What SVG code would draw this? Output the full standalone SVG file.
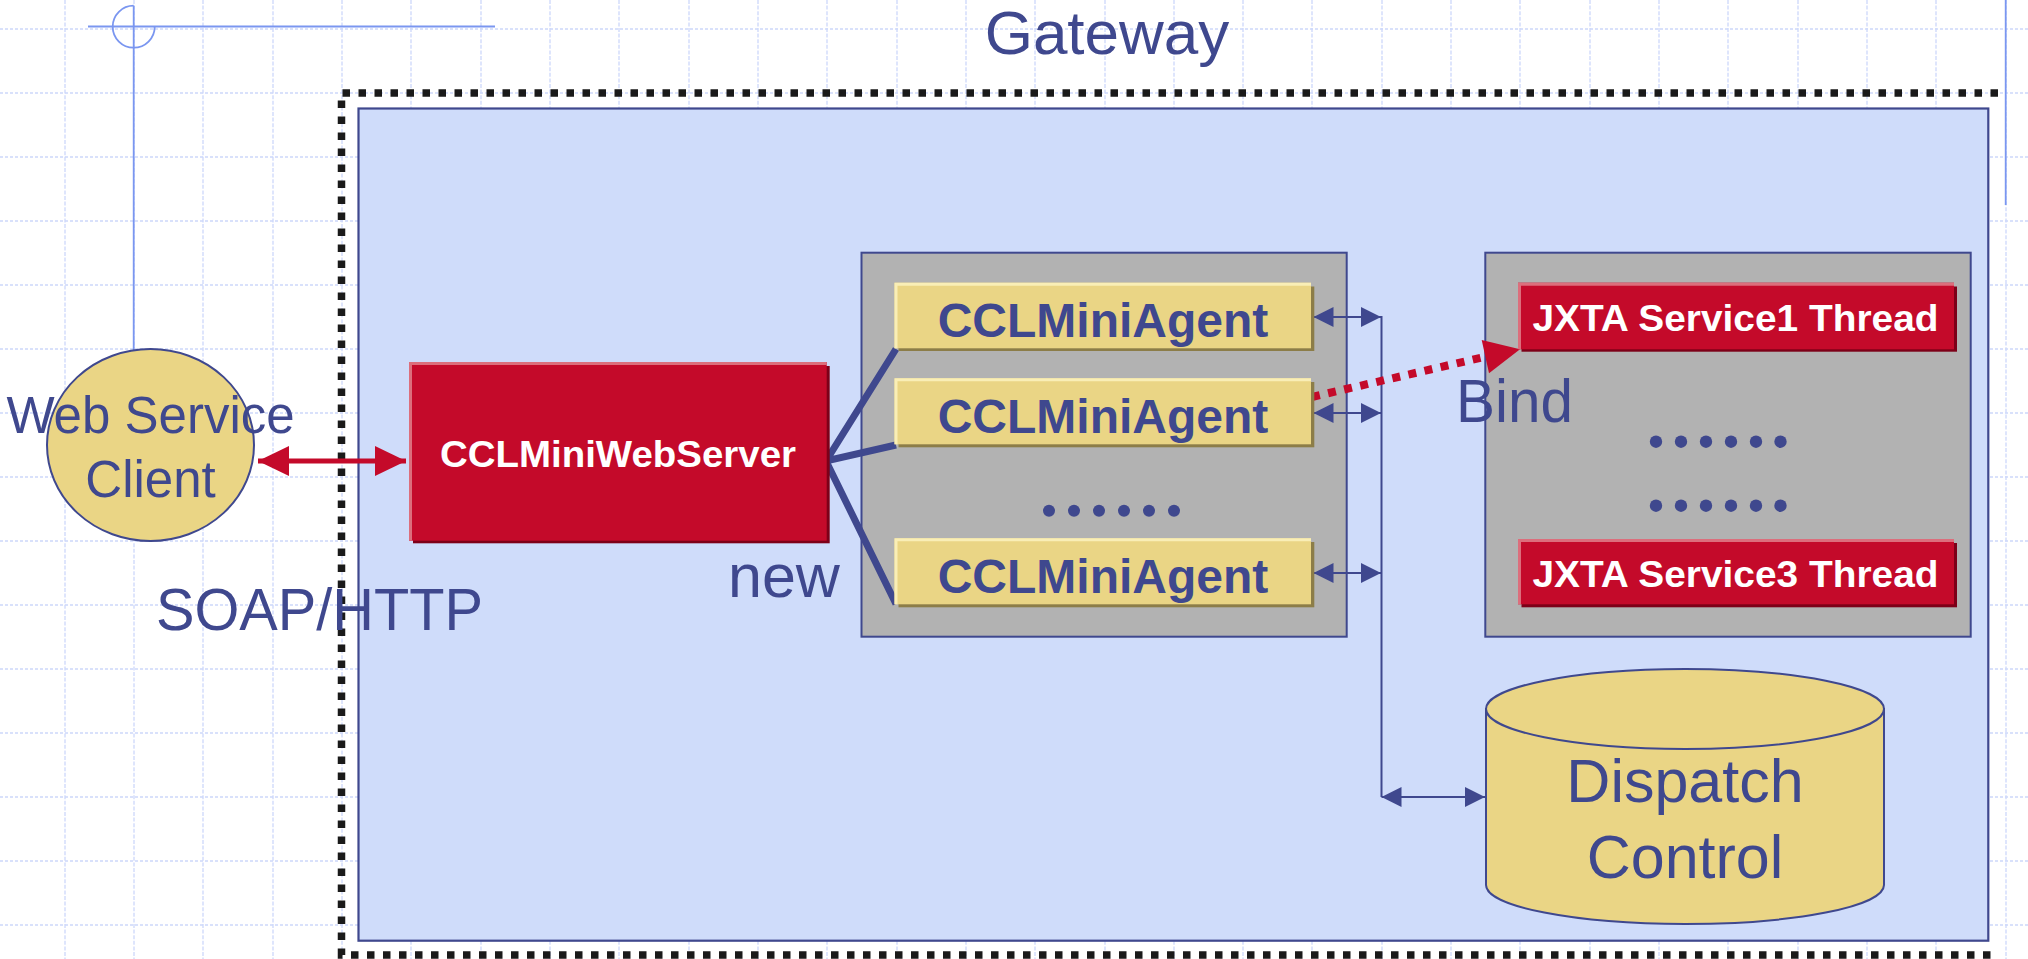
<svg xmlns="http://www.w3.org/2000/svg" width="2028" height="959" viewBox="0 0 2028 959">
<style>
  .gh { stroke:#cdd8fa; stroke-width:1.6; stroke-dasharray:3 2; fill:none; }
  .gv { stroke:#cdd8fa; stroke-width:1.3; stroke-dasharray:4 1.6; fill:none; }
  .guide { stroke:#7a96f0; stroke-width:1.8; fill:none; }
  .lbl { font-family:"Liberation Sans", Arial, sans-serif; fill:#3f488e; }
  .wb { font-family:"Liberation Sans", Arial, sans-serif; font-weight:bold; fill:#ffffff; }
  .ab { font-family:"Liberation Sans", Arial, sans-serif; font-weight:bold; fill:#3f488e; font-size:48px; text-anchor:middle; }
  .redMain { fill:#c40a2a; }
  .redShadow { fill:#7d0018; }
  .redHi { stroke:#dc6e7c; stroke-width:3; fill:none; }
  .goldMain { fill:#ead585; }
  .goldShadow { fill:#8c7d48; }
  .goldHi { stroke:#f9eeb6; stroke-width:3; fill:none; }
  .container { fill:#b2b2b2; stroke:#3f488e; stroke-width:2; }
  .dot { fill:#3f488e; }
  .blueLink { stroke:#3f488e; stroke-width:2; fill:none; }
  .fan { stroke:#3f488e; stroke-width:7; fill:none; stroke-linecap:butt; }
</style>
<defs>
  <marker id="ahBlue" viewBox="0 0 20 20" refX="20" refY="10" markerWidth="20" markerHeight="20" markerUnits="userSpaceOnUse" orient="auto-start-reverse">
    <path d="M0,0 L20,10 L0,20 Z" fill="#3f488e"/>
  </marker>
  <marker id="ahRed" viewBox="0 0 31 30" refX="31" refY="15" markerWidth="31" markerHeight="30" markerUnits="userSpaceOnUse" orient="auto-start-reverse">
    <path d="M0,0 L31,15 L0,30 Z" fill="#c40a2a"/>
  </marker>
</defs>

<rect x="0" y="0" width="2028" height="959" fill="#ffffff"/>

<g id="grid">
  <path class="gh" d="M0,29H2028M0,93H2028M0,157H2028M0,221H2028M0,285H2028M0,349H2028M0,413H2028M0,477H2028M0,541H2028M0,605H2028M0,669H2028M0,733H2028M0,797H2028M0,861H2028M0,925H2028"/>
  <path class="gv" d="M65,0V959M134,0V959M203,0V959M273,0V959M342,0V959M411,0V959M481,0V959M550,0V959M619,0V959M689,0V959M758,0V959M827,0V959M897,0V959M966,0V959M1035,0V959M1105,0V959M1174,0V959M1243,0V959M1312,0V959M1382,0V959M1451,0V959M1520,0V959M1590,0V959M1659,0V959M1728,0V959M1798,0V959M1867,0V959M1936,0V959M2006,0V959"/>
</g>

<g id="guides">
  <line class="guide" x1="88" y1="26.5" x2="495" y2="26.5"/>
  <path class="guide" d="M133.7,5.7 A21,21 0 1,0 154.7,26.7"/>
  <line class="guide" x1="133.7" y1="5.7" x2="133.7" y2="352"/>
  <line class="guide" x1="2005.7" y1="0" x2="2005.7" y2="205"/>
</g>

<g id="gateway">
  <path d="M1998,93 H341.5 V955 H1998" fill="none" stroke="#1a1a1a" stroke-width="7.5" stroke-dasharray="7.5 8.5"/>
  <rect x="358.5" y="108.5" width="1629.8" height="832.2" fill="#cfdcfa" stroke="#3f488e" stroke-width="2.2"/>
  <text class="lbl" x="1107" y="54" font-size="62" text-anchor="middle">Gateway</text>
</g>

<g id="client">
  <ellipse cx="150.5" cy="445" rx="103.5" ry="96" fill="#ead585" stroke="#3f488e" stroke-width="2"/>
  <text class="lbl" x="150.5" y="433" font-size="51" text-anchor="middle">Web Service</text>
  <text class="lbl" x="150.5" y="497" font-size="51" text-anchor="middle">Client</text>
</g>

<g id="agent-pool">
  <rect class="container" x="861.5" y="252.7" width="485.2" height="384"/>
</g>
<g id="jxta-pool">
  <rect class="container" x="1485.3" y="252.7" width="485.4" height="384"/>
</g>

<g id="connectors">
  <line x1="258" y1="461" x2="406" y2="461" stroke="#c40a2a" stroke-width="5" marker-start="url(#ahRed)" marker-end="url(#ahRed)"/>
  <path class="fan" d="M896,349 L826,461 L896,445 M826,461 L896,604"/>
  <line class="blueLink" x1="1313.5" y1="317" x2="1381" y2="317" marker-start="url(#ahBlue)" marker-end="url(#ahBlue)"/>
  <line class="blueLink" x1="1313.5" y1="413" x2="1381" y2="413" marker-start="url(#ahBlue)" marker-end="url(#ahBlue)"/>
  <line class="blueLink" x1="1313.5" y1="573" x2="1381" y2="573" marker-start="url(#ahBlue)" marker-end="url(#ahBlue)"/>
  <line class="blueLink" x1="1381.5" y1="316" x2="1381.5" y2="797"/>
  <line class="blueLink" x1="1381.5" y1="797" x2="1485" y2="797" marker-start="url(#ahBlue)" marker-end="url(#ahBlue)"/>
  <line x1="1312" y1="397" x2="1486" y2="356.5" stroke="#c40a2a" stroke-width="8" stroke-dasharray="8 8.5"/>
  <polygon points="1520,349.3 1481.7,340 1489,373.3" fill="#c40a2a"/>
</g>

<g id="server">
  <rect class="redShadow" x="413" y="366" width="416.7" height="177.3"/>
  <rect class="redMain" x="409" y="362" width="417.7" height="178.7"/>
  <path class="redHi" d="M410.5,540.7 V363.5 H826.7"/>
  <text class="wb" x="618" y="467" font-size="37" text-anchor="middle" textLength="356" lengthAdjust="spacingAndGlyphs">CCLMiniWebServer</text>
</g>

<g id="agent1">
  <rect class="goldShadow" x="898.5" y="286.5" width="415.8" height="64.5"/>
  <rect class="goldMain" x="894.5" y="282.7" width="416.5" height="65.6"/>
  <path class="goldHi" d="M896,348.3 V284.2 H1311"/>
  <text class="ab" x="1103" y="336.7">CCLMiniAgent</text>
</g>
<g id="agent2">
  <rect class="goldShadow" x="898.5" y="382" width="415.8" height="65.3"/>
  <rect class="goldMain" x="894.5" y="378.3" width="416.5" height="66"/>
  <path class="goldHi" d="M896,444.3 V379.8 H1311"/>
  <text class="ab" x="1103" y="432.7">CCLMiniAgent</text>
</g>
<g id="agent-dots">
  <circle class="dot" cx="1049" cy="510.7" r="6"/>
  <circle class="dot" cx="1074" cy="510.7" r="6"/>
  <circle class="dot" cx="1099" cy="510.7" r="6"/>
  <circle class="dot" cx="1124" cy="510.7" r="6"/>
  <circle class="dot" cx="1149" cy="510.7" r="6"/>
  <circle class="dot" cx="1174" cy="510.7" r="6"/>
</g>
<g id="agent3">
  <rect class="goldShadow" x="898.5" y="542" width="415.8" height="65.3"/>
  <rect class="goldMain" x="894.5" y="538.3" width="416.5" height="66"/>
  <path class="goldHi" d="M896,604.3 V539.8 H1311"/>
  <text class="ab" x="1103" y="592.7">CCLMiniAgent</text>
</g>

<g id="jxta1">
  <rect class="redShadow" x="1521.5" y="286.5" width="435.5" height="65.2"/>
  <rect class="redMain" x="1518" y="282.7" width="436" height="66.6"/>
  <path class="redHi" d="M1519.5,349.3 V284.2 H1954"/>
  <text class="wb" x="1735.5" y="331" font-size="37" text-anchor="middle" textLength="406" lengthAdjust="spacingAndGlyphs">JXTA Service1 Thread</text>
</g>
<g id="jxta-dots">
  <circle class="dot" cx="1656" cy="441.7" r="6.2"/>
  <circle class="dot" cx="1681" cy="441.7" r="6.2"/>
  <circle class="dot" cx="1706" cy="441.7" r="6.2"/>
  <circle class="dot" cx="1731" cy="441.7" r="6.2"/>
  <circle class="dot" cx="1756" cy="441.7" r="6.2"/>
  <circle class="dot" cx="1780.5" cy="441.7" r="6.2"/>
  <circle class="dot" cx="1656" cy="505.7" r="6.2"/>
  <circle class="dot" cx="1681" cy="505.7" r="6.2"/>
  <circle class="dot" cx="1706" cy="505.7" r="6.2"/>
  <circle class="dot" cx="1731" cy="505.7" r="6.2"/>
  <circle class="dot" cx="1756" cy="505.7" r="6.2"/>
  <circle class="dot" cx="1780.5" cy="505.7" r="6.2"/>
</g>
<g id="jxta3">
  <rect class="redShadow" x="1521.5" y="543" width="435.5" height="64.3"/>
  <rect class="redMain" x="1518" y="539" width="436" height="65.3"/>
  <path class="redHi" d="M1519.5,604.3 V540.5 H1954"/>
  <text class="wb" x="1735.5" y="586.7" font-size="37" text-anchor="middle" textLength="406" lengthAdjust="spacingAndGlyphs">JXTA Service3 Thread</text>
</g>

<g id="dispatch">
  <path d="M1486,709 V885 A199,39 0 0,0 1884,885 V709 Z" fill="#ead585" stroke="#3f488e" stroke-width="2"/>
  <ellipse cx="1685" cy="709" rx="199" ry="40" fill="#ead585" stroke="#3f488e" stroke-width="2"/>
  <text class="lbl" x="1685" y="802" font-size="61" text-anchor="middle">Dispatch</text>
  <text class="lbl" x="1685" y="878" font-size="61" text-anchor="middle">Control</text>
</g>

<g id="labels">
  <text class="lbl" x="156" y="630" font-size="60" textLength="327" lengthAdjust="spacingAndGlyphs">SOAP/HTTP</text>
  <text class="lbl" x="728" y="597" font-size="61">new</text>
  <text class="lbl" x="1456" y="421.7" font-size="61" textLength="117" lengthAdjust="spacingAndGlyphs">Bind</text>
</g>
</svg>
